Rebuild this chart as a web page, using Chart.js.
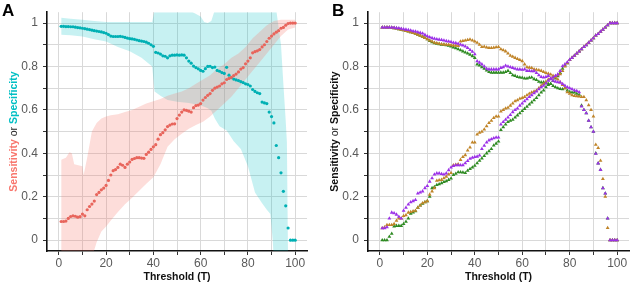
<!DOCTYPE html>
<html>
<head>
<meta charset="utf-8">
<script src="https://cdn.jsdelivr.net/npm/chart.js@4.4.0/dist/chart.umd.min.js"></script>
<style>
  html, body { margin: 0; padding: 0; background: #fff; }
  #wrap { position: relative; width: 633px; height: 285px; }
  .panel { position: absolute; top: 0; }
  #pa { left: 0; }
  #pb { left: 316px; }
</style>
</head>
<body>
<div id="wrap">
  <div class="panel" id="pa"><canvas id="chartA" width="316" height="285"></canvas></div>
  <div class="panel" id="pb"><canvas id="chartB" width="317" height="285"></canvas></div>
</div>
<script>
// thresholds T = 1..100
const thresholds = [1,2,3,4,5,6,7,8,9,10,11,12,13,14,15,16,17,18,19,20,
  21,22,23,24,25,26,27,28,29,30,31,32,33,34,35,36,37,38,39,40,
  41,42,43,44,45,46,47,48,49,50,51,52,53,54,55,56,57,58,59,60,
  61,62,63,64,65,66,67,68,69,70,71,72,73,74,75,76,77,78,79,80,
  81,82,83,84,85,86,87,88,89,90,91,92,93,94,95,96,97,98,99,100];

const xTickValues = [0,10,20,30,40,50,60,70,80,90,100];
const yTickValues = [0,0.1,0.2,0.3,0.4,0.5,0.6,0.7,0.8,0.9,1];

// ---- panel A: pooled sensitivity / specificity ----
const sensA = [0.086,0.086,0.088,0.1,0.109,0.112,0.11,0.106,0.108,0.12,
  0.112,0.14,0.155,0.166,0.18,0.21,0.22,0.232,0.24,0.252,
  0.275,0.3,0.32,0.325,0.335,0.35,0.345,0.335,0.35,0.36,
  0.372,0.376,0.38,0.38,0.378,0.377,0.395,0.405,0.418,0.43,
  0.44,0.465,0.486,0.495,0.508,0.523,0.53,0.535,0.536,0.56,
  0.576,0.59,0.6,0.598,0.594,0.59,0.61,0.62,0.622,0.629,
  0.645,0.657,0.667,0.675,0.69,0.7,0.705,0.71,0.72,0.725,
  0.74,0.745,0.75,0.758,0.765,0.775,0.788,0.795,0.812,0.825,
  0.84,0.863,0.868,0.872,0.878,0.89,0.9,0.915,0.93,0.94,
  0.95,0.958,0.965,0.976,0.98,0.99,0.998,1,1,1];

const specA = [0.985,0.985,0.984,0.984,0.983,0.983,0.981,0.979,0.978,0.976,
  0.974,0.972,0.97,0.967,0.965,0.963,0.961,0.959,0.956,0.953,
  0.947,0.94,0.938,0.938,0.938,0.939,0.937,0.934,0.931,0.928,
  0.927,0.925,0.922,0.919,0.917,0.915,0.912,0.907,0.9,0.893,
  0.865,0.862,0.857,0.849,0.847,0.84,0.849,0.852,0.852,0.853,
  0.852,0.853,0.852,0.84,0.825,0.815,0.802,0.795,0.789,0.782,
  0.778,0.79,0.8,0.801,0.795,0.797,0.782,0.778,0.772,0.768,
  0.796,0.76,0.748,0.742,0.738,0.735,0.73,0.726,0.72,0.717,
  0.71,0.694,0.685,0.679,0.675,0.636,0.632,0.629,0.59,0.569,
  0.54,0.436,0.38,0.31,0.225,0.158,0.056,0,0,0];

// confidence bands
const sensBandT = [1,3,4.5,5.5,6.5,10,10.5,12,14,16,18,20,22,25,28,31,34,37,40,43,
  46,49,52,55,58,61,64,67,70,73,76,79,82,85,88,91,94,97,100];
const sensBandHi = [0.37,0.38,0.405,0.4,0.35,0.34,0.3,0.38,0.5,0.54,0.56,0.57,0.575,0.58,0.59,0.6,0.615,0.63,0.64,0.65,
  0.665,0.675,0.685,0.7,0.72,0.74,0.76,0.79,0.81,0.84,0.86,0.89,0.93,0.96,0.99,1.01,1.015,1.015,1.015];
const sensBandLo = [-0.1,-0.1,-0.1,-0.1,-0.1,-0.1,-0.1,-0.1,-0.08,-0.01,0.04,0.063,0.09,0.13,0.165,0.195,0.228,0.26,0.29,0.35,
  0.43,0.465,0.49,0.513,0.53,0.545,0.57,0.6,0.63,0.66,0.7,0.74,0.78,0.82,0.86,0.9,0.94,0.97,0.98];

const specBandT = [1,5,10,15,20,25,30,35,39.5,40.5,43,46,50,55,60,61.5,63,64.5,66,68,71,
  74,77,80,83,86,88,89.5,90.5,91,92,93,94,95,96,96.5,97];
const specBandHi = [1.025,1.02,1.015,1.01,1.005,1.005,1.005,1.005,1.005,1.06,1.06,1.06,1.06,1.06,1.03,1.005,1.0,1.01,1.06,1.06,1.06,
  1.06,1.06,1.06,1.06,1.06,1.06,1.06,1.06,1.06,1.06,0.98,0.9,0.72,0.55,0.45,-0.1];
const specBandLo = [0.946,0.944,0.938,0.925,0.915,0.89,0.87,0.84,0.8,0.685,0.665,0.645,0.638,0.632,0.62,0.615,0.608,0.596,0.56,0.525,0.505,
  0.455,0.42,0.34,0.22,0.17,0.14,0.12,0.0,-0.1,-0.1,-0.1,-0.1,-0.1,-0.1,-0.1,-0.1];

// ---- panel B: three groups ----
const sensPurple = [0.055,0.055,0.06,0.1,0.127,0.124,0.118,0.108,0.1,0.136,
  0.15,0.165,0.175,0.18,0.185,0.215,0.22,0.225,0.24,0.25,
  0.27,0.285,0.303,0.308,0.308,0.305,0.303,0.308,0.323,0.335,
  0.342,0.345,0.345,0.345,0.345,0.355,0.365,0.375,0.38,0.383,
  0.385,0.39,0.42,0.435,0.45,0.46,0.465,0.47,0.473,0.473,
  0.533,0.545,0.555,0.565,0.577,0.59,0.6,0.607,0.62,0.63,
  0.64,0.65,0.66,0.668,0.677,0.685,0.695,0.705,0.712,0.722,
  0.735,0.742,0.75,0.757,0.764,0.78,0.801,0.81,0.82,0.831,
  0.84,0.85,0.86,0.87,0.88,0.89,0.898,0.91,0.92,0.93,
  0.943,0.95,0.96,0.97,0.98,0.99,1,1,1,1];
const sensOrange = [0.055,0.06,0.07,0.07,0.07,0.075,0.09,0.1,0.1,0.112,
  0.115,0.127,0.13,0.133,0.136,0.15,0.16,0.17,0.175,0.18,
  0.21,0.225,0.24,0.274,0.276,0.278,0.285,0.293,0.303,0.31,
  0.345,0.348,0.35,0.37,0.383,0.392,0.413,0.427,0.45,0.45,
  0.487,0.495,0.5,0.51,0.525,0.54,0.55,0.563,0.57,0.57,
  0.593,0.6,0.607,0.61,0.62,0.63,0.64,0.645,0.652,0.655,
  0.66,0.668,0.675,0.68,0.685,0.689,0.7,0.712,0.72,0.73,
  0.74,0.745,0.75,0.755,0.76,0.765,0.78,0.8,0.815,0.83,
  0.84,0.85,0.86,0.87,0.88,0.89,0.9,0.91,0.92,0.93,
  0.943,0.95,0.96,0.97,0.98,0.99,1,1,1,1];
const sensGreen = [0,0,0,0.016,0.03,0.063,0.066,0.066,0.066,0.075,
  0.085,0.1,0.122,0.128,0.134,0.15,0.16,0.168,0.175,0.18,
  0.2,0.24,0.245,0.254,0.258,0.262,0.268,0.272,0.278,0.284,
  0.3,0.306,0.313,0.313,0.312,0.31,0.32,0.328,0.335,0.343,
  0.355,0.366,0.377,0.388,0.4,0.41,0.42,0.436,0.445,0.455,
  0.508,0.52,0.533,0.545,0.55,0.555,0.565,0.575,0.585,0.595,
  0.605,0.615,0.625,0.635,0.645,0.655,0.668,0.68,0.69,0.705,
  0.715,0.72,0.734,0.745,0.755,0.77,0.79,0.805,0.815,0.83,
  0.84,0.85,0.86,0.87,0.88,0.89,0.898,0.91,0.92,0.93,
  0.943,0.95,0.96,0.97,0.98,0.99,1,1,1,1];

const specPurple = [0.98,0.98,0.98,0.98,0.98,0.979,0.977,0.976,0.974,0.972,
  0.97,0.968,0.966,0.963,0.961,0.958,0.955,0.952,0.946,0.94,
  0.935,0.931,0.928,0.926,0.924,0.922,0.92,0.917,0.915,0.913,
  0.91,0.908,0.905,0.9,0.897,0.892,0.885,0.876,0.868,0.857,
  0.824,0.818,0.81,0.8,0.79,0.787,0.787,0.787,0.787,0.787,
  0.794,0.797,0.804,0.8,0.797,0.794,0.79,0.787,0.787,0.785,
  0.787,0.78,0.78,0.778,0.779,0.77,0.76,0.752,0.75,0.752,
  0.757,0.745,0.735,0.73,0.728,0.727,0.72,0.712,0.705,0.7,
  0.695,0.69,0.687,0.682,0.616,0.6,0.585,0.55,0.52,0.5,
  0.398,0.354,0.324,0.239,0.215,0.1,0,0,0,0];
const specOrange = [0.98,0.98,0.98,0.98,0.979,0.977,0.975,0.972,0.97,0.967,
  0.964,0.961,0.958,0.955,0.951,0.947,0.942,0.937,0.932,0.926,
  0.92,0.915,0.91,0.907,0.905,0.903,0.902,0.9,0.9,0.898,
  0.897,0.896,0.895,0.915,0.918,0.92,0.922,0.925,0.92,0.915,
  0.91,0.9,0.89,0.891,0.888,0.885,0.885,0.887,0.889,0.89,
  0.88,0.875,0.87,0.86,0.85,0.845,0.84,0.835,0.83,0.825,
  0.81,0.797,0.795,0.793,0.787,0.785,0.783,0.78,0.775,0.77,
  0.767,0.763,0.757,0.75,0.74,0.727,0.715,0.7,0.682,0.675,
  0.668,0.665,0.663,0.662,0.66,0.66,0.645,0.622,0.6,0.57,
  0.44,0.425,0.366,0.282,0.2,0.056,0,0,0,0];
const specGreen = [0.98,0.98,0.98,0.98,0.979,0.977,0.975,0.972,0.97,0.967,
  0.964,0.961,0.958,0.955,0.951,0.947,0.942,0.937,0.932,0.926,
  0.918,0.912,0.908,0.905,0.903,0.901,0.9,0.898,0.896,0.893,
  0.888,0.884,0.88,0.875,0.87,0.865,0.86,0.855,0.848,0.84,
  0.81,0.805,0.797,0.79,0.782,0.775,0.772,0.772,0.772,0.772,
  0.772,0.772,0.775,0.78,0.77,0.76,0.757,0.752,0.75,0.748,
  0.745,0.745,0.748,0.75,0.742,0.738,0.73,0.727,0.727,0.725,
  0.72,0.72,0.71,0.705,0.7,0.697,0.695,0.7,0.69,0.683,
  0.68,0.68,0.675,0.67,0.62,0.6,0.585,0.55,0.52,0.5,
  0.4,0.354,0.324,0.24,0.215,0.1,0,0,0,0];

const RED = '#F8766D', TEAL = '#00BFC4';
const RED_PT = '#E8655C', TEAL_PT = '#00B0B4';
const PURPLE = '#9B30E8', ORANGE = '#C08428', GREEN = '#2E8A22';
const FONT = "'Liberation Sans', Arial, sans-serif";

function pts(xs, ys) {
  return xs.map((x, i) => ({x: x, y: ys[i]}));
}

function pointSet(label, xs, ys, colour, style) {
  return {
    label: label,
    data: pts(xs, ys),
    showLine: false,
    pointStyle: style,
    pointRadius: style === 'triangle' ? 2.2 : 1.6,
    pointBorderWidth: 0,
    pointBackgroundColor: colour,
    backgroundColor: colour,
    borderColor: colour,
    order: 0
  };
}

function bandSet(label, xs, ys, fillColour, fillTarget) {
  return {
    label: label,
    data: pts(xs, ys),
    showLine: true,
    borderWidth: 0,
    borderColor: 'rgba(0,0,0,0)',
    pointRadius: 0,
    tension: 0,
    backgroundColor: fillColour,
    fill: fillTarget,
    order: 1
  };
}

// draws the y title (mixed colours/weights) and the panel letter
const decorations = {
  id: 'decorations',
  afterDraw(chart, args, opts) {
    const ctx = chart.ctx;
    const area = chart.chartArea;
    ctx.save();
    ctx.textBaseline = 'middle';
    ctx.textAlign = 'left';
    let total = 0;
    opts.parts.forEach(p => {
      ctx.font = (p.bold ? 'bold ' : '') + opts.size + 'px ' + FONT;
      p.w = ctx.measureText(p.text).width;
      total += p.w;
    });
    ctx.translate(opts.titleX, (area.top + area.bottom) / 2);
    ctx.rotate(-Math.PI / 2);
    let x = -total / 2;
    opts.parts.forEach(p => {
      ctx.font = (p.bold ? 'bold ' : '') + opts.size + 'px ' + FONT;
      ctx.fillStyle = p.colour;
      ctx.fillText(p.text, x, 0);
      x += p.w;
    });
    ctx.restore();

    ctx.save();
    ctx.font = 'bold 17px ' + FONT;
    ctx.fillStyle = '#000';
    ctx.textBaseline = 'top';
    ctx.fillText(opts.letter, opts.letterX, 3);
    ctx.restore();
  }
};

function buildOptions(cfg) {
  return {
    responsive: false,
    animation: false,
    events: [],
    layout: { padding: { top: cfg.padTop, right: cfg.padRight, left: 0, bottom: 0 } },
    plugins: {
      legend: { display: false },
      tooltip: { enabled: false },
      decorations: cfg.deco
    },
    scales: {
      x: {
        type: 'linear', min: -5, max: 105,
        afterBuildTicks: s => { s.ticks = xTickValues.map(v => ({value: v})); },
        afterFit: s => { s.height = 34; },
        grid: { color: '#d9d9d9', lineWidth: 1, tickLength: 4, tickColor: '#333', tickWidth: 1 },
        border: { color: '#111', width: 1.6 },
        ticks: {
          autoSkip: false, maxRotation: 0, padding: 1, color: '#5a5a5a',
          font: { family: FONT, size: 12 },
          callback: v => (v % 20 === 0 ? String(v) : '')
        },
        title: {
          display: true, text: 'Threshold (T)', color: '#111',
          font: { family: FONT, size: 10.5, weight: 'bold' },
          padding: { top: 0, bottom: 2 }
        }
      },
      y: {
        type: 'linear', min: -0.05, max: 1.05,
        afterBuildTicks: s => { s.ticks = yTickValues.map(v => ({value: v})); },
        afterFit: s => { s.width = cfg.yWidth; },
        grid: { color: '#d9d9d9', lineWidth: 1, tickLength: 4, tickColor: '#333', tickWidth: 1 },
        border: { color: '#111', width: 1.6 },
        ticks: {
          autoSkip: false, padding: 5, color: '#5a5a5a',
          font: { family: FONT, size: 12 },
          callback: v => { const k = Math.round(v * 10); return k % 2 === 0 ? String(k / 10) : ''; }
        }
      }
    }
  };
}

new Chart(document.getElementById('chartA'), {
  type: 'line',
  data: {
    datasets: [
      pointSet('Sensitivity', thresholds, sensA, RED_PT, 'circle'),
      pointSet('Specificity', thresholds, specA, TEAL_PT, 'circle'),
      bandSet('sens upper', sensBandT, sensBandHi, 'rgba(248,118,109,0.25)', '+1'),
      bandSet('sens lower', sensBandT, sensBandLo, 'rgba(0,0,0,0)', false),
      bandSet('spec upper', specBandT, specBandHi, 'rgba(0,191,196,0.22)', '+1'),
      bandSet('spec lower', specBandT, specBandLo, 'rgba(0,0,0,0)', false)
    ]
  },
  options: buildOptions({
    padTop: 8, padRight: 9, yWidth: 47,
    deco: {
      parts: [
        { text: 'Sensitivity', colour: RED, bold: true },
        { text: ' or ', colour: '#222', bold: false },
        { text: 'Specificity', colour: TEAL, bold: true }
      ],
      size: 10.5, titleX: 14, letter: 'A', letterX: 2
    }
  }),
  plugins: [decorations]
});

new Chart(document.getElementById('chartB'), {
  type: 'line',
  data: {
    datasets: [
      pointSet('Sensitivity purple', thresholds, sensPurple, PURPLE, 'triangle'),
      pointSet('Specificity purple', thresholds, specPurple, PURPLE, 'triangle'),
      pointSet('Sensitivity orange', thresholds, sensOrange, ORANGE, 'triangle'),
      pointSet('Specificity orange', thresholds, specOrange, ORANGE, 'triangle'),
      pointSet('Sensitivity green', thresholds, sensGreen, GREEN, 'triangle'),
      pointSet('Specificity green', thresholds, specGreen, GREEN, 'triangle')
    ]
  },
  options: buildOptions({
    padTop: 6, padRight: 4, yWidth: 52,
    deco: {
      parts: [
        { text: 'Sensitivity', colour: '#111', bold: true },
        { text: ' or ', colour: '#222', bold: false },
        { text: 'Specificity', colour: '#111', bold: true }
      ],
      size: 10.5, titleX: 19, letter: 'B', letterX: 16
    }
  }),
  plugins: [decorations]
});
</script>
</body>
</html>
